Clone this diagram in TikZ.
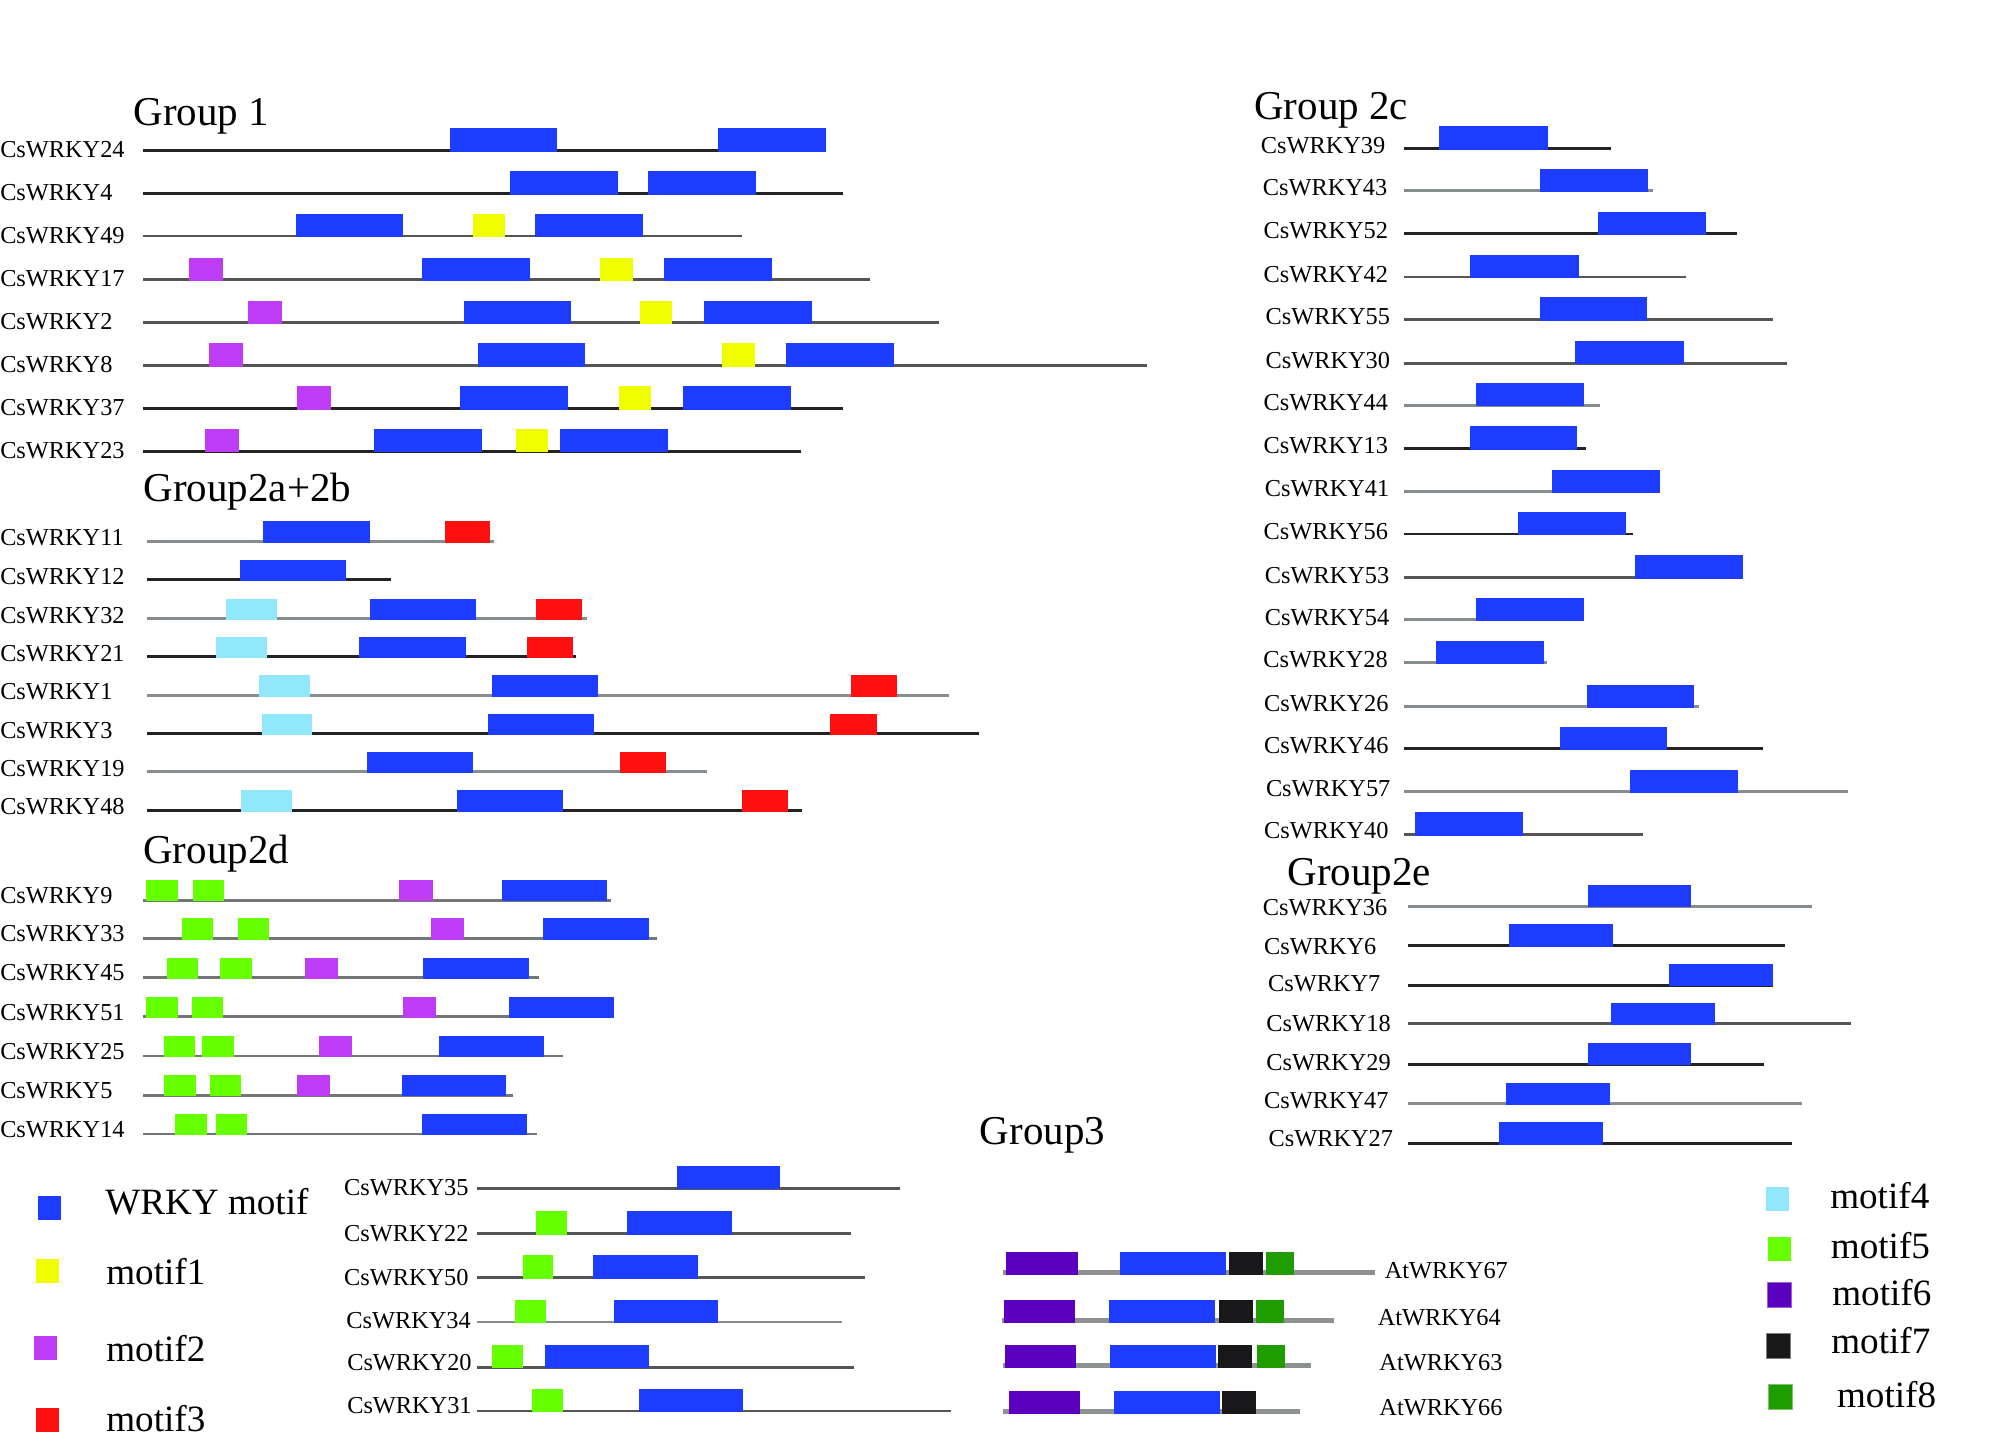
\documentclass[tikz,border=0pt]{standalone}
\usepackage{fontspec}
\setmainfont{Liberation Serif}
\definecolor{cBl}{RGB}{30,60,255}
\definecolor{cYe}{RGB}{240,255,0}
\definecolor{cMg}{RGB}{190,60,245}
\definecolor{cRd}{RGB}{255,16,16}
\definecolor{cLb}{RGB}{145,232,250}
\definecolor{cGr}{RGB}{102,255,0}
\definecolor{cPu}{RGB}{90,0,190}
\definecolor{cBk}{RGB}{24,24,26}
\definecolor{cGd}{RGB}{30,156,0}
\definecolor{lnDc}{RGB}{35,35,35}
\definecolor{lnMc}{RGB}{85,85,85}
\definecolor{lnLc}{RGB}{135,140,140}
\definecolor{lnGc}{RGB}{115,118,118}
\definecolor{lnAc}{RGB}{142,145,145}
\newcommand\rowline[4]{\draw[#1] (#3,#2) -- (#4,#2);}
\newcommand\motbox[4]{\fill[#1] (#3,{#2+\mbo}) rectangle (#4,{#2+\mbo-\mbh});}
\tikzset{
  lnbase/.style={line width=2.3pt},
  lnD/.style={lnbase,draw=lnDc},
  lnM/.style={lnbase,draw=lnMc},
  lnL/.style={lnbase,draw=lnLc},
  lnG/.style={lnbase,draw=lnGc},
  lnA/.style={line width=3.6pt,draw=lnAc},
  lab/.style={font=\fontsize{19}{19}\selectfont, inner sep=0pt},
  labL/.style={lab, anchor=base west},
  labR/.style={lab, anchor=base east},
  ttl/.style={font=\fontsize{32}{32}\selectfont, inner sep=0pt, anchor=base west},
  leg/.style={font=\fontsize{29}{29}\selectfont, inner sep=0pt, anchor=base west},
}
\begin{document}
\begin{tikzpicture}[x=1pt,y=-1pt]
\fill[white] (0,0) rectangle (1568,1133);
\useasboundingbox (0,0) rectangle (1568,1133);

% ---------------- Group 1
\def\mbh{18.4}\def\mbo{1.1}
\node[ttl] (tG1) at (104,98.1) {Group 1};
\node[labL] (l24) at (0,122.9) {CsWRKY24};
\rowline{lnD}{117.4}{111.5}{645.3}
\motbox{cBl}{117.4}{351.2}{435}\motbox{cBl}{117.4}{561}{645.3}
\node[labL] (l4) at (0,156.7) {CsWRKY4};
\rowline{lnD}{151.2}{111.5}{658}
\motbox{cBl}{151.2}{398}{482.4}\motbox{cBl}{151.2}{506}{590.4}
\node[labL] (l49) at (0,189.8) {CsWRKY49};
\rowline{lnM}{184.3}{111.5}{579.4}
\motbox{cBl}{184.3}{231}{314.9}\motbox{cYe}{184.3}{369.2}{394.6}\motbox{cBl}{184.3}{417.7}{502}
\node[labL] (l17) at (0,223.9) {CsWRKY17};
\rowline{lnM}{218.4}{111.5}{679.4}
\motbox{cMg}{218.4}{147.3}{173.9}\motbox{cBl}{218.4}{329.3}{413.6}\motbox{cYe}{218.4}{468.5}{494.5}\motbox{cBl}{218.4}{518.2}{602.5}
\node[labL] (l2) at (0,257.5) {CsWRKY2};
\rowline{lnM}{252}{111.5}{733.1}
\motbox{cMg}{252}{193.5}{220.1}\motbox{cBl}{252}{362.2}{446}\motbox{cYe}{252}{499.7}{525.1}\motbox{cBl}{252}{549.4}{634.3}
\node[labL] (l8) at (0,291) {CsWRKY8};
\rowline{lnM}{285.5}{111.5}{895.4}
\motbox{cMg}{285.5}{163.5}{190.1}\motbox{cBl}{285.5}{373.2}{457}\motbox{cYe}{285.5}{563.8}{589.3}\motbox{cBl}{285.5}{613.5}{697.9}
\node[labL] (l37) at (0,324.6) {CsWRKY37};
\rowline{lnD}{319.1}{111.5}{658}
\motbox{cMg}{319.1}{232.2}{258.8}\motbox{cBl}{319.1}{359.3}{443.7}\motbox{cYe}{319.1}{483}{508.4}\motbox{cBl}{319.1}{533.2}{617.6}
\node[labL] (l23) at (0,357.7) {CsWRKY23};
\rowline{lnD}{352.2}{111.5}{625.6}
\motbox{cMg}{352.2}{160}{186.6}\motbox{cBl}{352.2}{291.7}{376.1}\motbox{cYe}{352.2}{402.7}{428.1}\motbox{cBl}{352.2}{437.3}{521.7}

% ---------------- Group 2a+2b
\def\mbh{16.8}\def\mbo{1.1}
\node[ttl] (tG2ab) at (112,391.7) {Group2a+2b};
\node[labL] (l11) at (0,426.3) {CsWRKY11};
\rowline{lnL}{422.7}{114.5}{386}
\motbox{cBl}{422.7}{205.2}{288.8}\motbox{cRd}{422.7}{347.1}{383}
\node[labL] (l12) at (0,456.3) {CsWRKY12};
\rowline{lnD}{452.7}{114.5}{305.3}
\motbox{cBl}{452.7}{187.3}{270.4}
\node[labL] (l32) at (0,486.7) {CsWRKY32};
\rowline{lnL}{483.1}{114.5}{458.7}
\motbox{cLb}{483.1}{176.8}{216.6}\motbox{cBl}{483.1}{288.8}{371.5}\motbox{cRd}{483.1}{418.3}{454.7}
\node[labL] (l21) at (0,516.6) {CsWRKY21};
\rowline{lnD}{513}{114.5}{449.7}
\motbox{cLb}{513}{168.3}{208.2}\motbox{cBl}{513}{280.4}{363.5}\motbox{cRd}{513}{411.4}{447.7}
\node[labL] (l1) at (0,546.6) {CsWRKY1};
\rowline{lnL}{543}{114.5}{741}
\motbox{cLb}{543}{202.2}{242}\motbox{cBl}{543}{384.5}{467.1}\motbox{cRd}{543}{664.8}{700.7}
\node[labL] (l3) at (0,576.5) {CsWRKY3};
\rowline{lnD}{572.9}{114.5}{764.4}
\motbox{cLb}{572.9}{204.2}{244}\motbox{cBl}{572.9}{381}{464.1}\motbox{cRd}{572.9}{648.4}{684.8}
\node[labL] (l19) at (0,606.4) {CsWRKY19};
\rowline{lnL}{602.8}{114.5}{552.3}
\motbox{cBl}{602.8}{286.4}{369.5}\motbox{cRd}{602.8}{484.1}{519.9}
\node[labL] (l48) at (0,636.4) {CsWRKY48};
\rowline{lnD}{632.8}{114.5}{626.5}
\motbox{cLb}{632.8}{188.2}{228.1}\motbox{cBl}{632.8}{357.1}{439.7}\motbox{cRd}{632.8}{579.2}{615.5}

% ---------------- Group 2d
\node[ttl] (tG2d) at (111.7,674.2) {Group2d};
\node[labL] (l9) at (0,705.4) {CsWRKY9};
\rowline{lnG}{702.8}{111.7}{477.2}
\motbox{cGr}{702.8}{114}{138.7}\motbox{cGr}{702.8}{150.5}{175.2}\motbox{cMg}{702.8}{311.5}{337.8}\motbox{cBl}{702.8}{392}{474.2}
\node[labL] (l33) at (0,735.3) {CsWRKY33};
\rowline{lnG}{732.7}{111.7}{513.3}
\motbox{cGr}{732.7}{142}{166.6}\motbox{cGr}{732.7}{186}{210.3}\motbox{cMg}{732.7}{336.5}{362.5}\motbox{cBl}{732.7}{424.3}{506.4}
\node[labL] (l45) at (0,766) {CsWRKY45};
\rowline{lnG}{763.4}{111.7}{420.6}
\motbox{cGr}{763.4}{130.5}{154.8}\motbox{cGr}{763.4}{171.9}{196.5}\motbox{cMg}{763.4}{238.3}{264.2}\motbox{cBl}{763.4}{330.6}{413.1}
\node[labL] (l51) at (0,796.5) {CsWRKY51};
\rowline{lnG}{793.9}{111.7}{479.5}
\motbox{cGr}{793.9}{114}{138.7}\motbox{cGr}{793.9}{149.9}{174.2}\motbox{cMg}{793.9}{314.8}{340.8}\motbox{cBl}{793.9}{397.6}{479.5}
\node[labL] (l25) at (0,827.2) {CsWRKY25};
\rowline{lnG}{824.6}{111.7}{439.4}
\motbox{cGr}{824.6}{128.2}{152.5}\motbox{cGr}{824.6}{158.1}{182.7}\motbox{cMg}{824.6}{249.1}{275.1}\motbox{cBl}{824.6}{342.8}{424.6}
\node[labL] (l5) at (0,857.7) {CsWRKY5};
\rowline{lnG}{855.1}{111.7}{400.6}
\motbox{cGr}{855.1}{128.2}{153.1}\motbox{cGr}{855.1}{163.7}{188}\motbox{cMg}{855.1}{232}{258}\motbox{cBl}{855.1}{313.8}{395.3}
\node[labL] (l14) at (0,888.1) {CsWRKY14};
\rowline{lnG}{885.5}{111.7}{419}
\motbox{cGr}{885.5}{137}{161.7}\motbox{cGr}{885.5}{168.9}{193.2}\motbox{cBl}{885.5}{329.6}{411.4}

% ---------------- Group 2c
\def\mbh{18.2}\def\mbo{1.1}
\node[ttl] (tG2c) at (979.3,93.2) {Group 2c};
\node[labR] (l39) at (1081.9,119.8) {CsWRKY39};
\rowline{lnD}{115.8}{1096}{1257.8}\motbox{cBl}{115.8}{1123.6}{1208.4}
\node[labR] (l43) at (1083.5,152.9) {CsWRKY43};
\rowline{lnL}{148.9}{1096}{1290.4}\motbox{cBl}{148.9}{1202.6}{1287}
\node[labR] (l52) at (1084.1,186.5) {CsWRKY52};
\rowline{lnD}{182.5}{1096}{1356.4}\motbox{cBl}{182.5}{1247.8}{1332.5}
\node[labR] (l42) at (1084.1,220.3) {CsWRKY42};
\rowline{lnM}{216.3}{1096}{1316.7}\motbox{cBl}{216.3}{1148.1}{1232.8}
\node[labR] (l55) at (1085.6,253.4) {CsWRKY55};
\rowline{lnM}{249.4}{1096}{1384.3}\motbox{cBl}{249.4}{1202.6}{1286.4}
\node[labR] (l30) at (1085.6,288) {CsWRKY30};
\rowline{lnM}{283.5}{1096}{1395.6}\motbox{cBl}{283.5}{1230.2}{1315.2}
\node[labR] (l44) at (1084.1,320.3) {CsWRKY44};
\rowline{lnL}{316.3}{1096}{1249.7}\motbox{cBl}{316.3}{1152.5}{1236.6}
\node[labR] (l13) at (1084.1,354.1) {CsWRKY13};
\rowline{lnD}{350.1}{1096}{1238.1}\motbox{cBl}{350.1}{1147.5}{1231.6}
\node[labR] (l41) at (1085,387.4) {CsWRKY41};
\rowline{lnL}{384}{1096}{1296.2}\motbox{cBl}{384}{1212.1}{1296.2}
\node[labR] (l56) at (1084.1,421) {CsWRKY56};
\rowline{lnD}{417}{1096}{1274.9}\motbox{cBl}{417}{1185.4}{1270}
\node[labR] (l53) at (1085,455.3) {CsWRKY53};
\rowline{lnM}{450.8}{1096}{1360.9}\motbox{cBl}{450.8}{1277.1}{1360.9}
\node[labR] (l54) at (1085,488.1) {CsWRKY54};
\rowline{lnL}{484.1}{1096}{1236.6}\motbox{cBl}{484.1}{1152.2}{1236.6}
\node[labR] (l28) at (1083.8,521.5) {CsWRKY28};
\rowline{lnL}{517.5}{1096}{1208.3}\motbox{cBl}{517.5}{1121.1}{1205.5}
\node[labR] (l26) at (1084.5,555.6) {CsWRKY26};
\rowline{lnL}{551.6}{1096}{1326.3}\motbox{cBl}{551.6}{1239}{1323}
\node[labR] (l46) at (1084.5,588.6) {CsWRKY46};
\rowline{lnD}{584.6}{1096}{1376.8}\motbox{cBl}{584.6}{1217.8}{1301.8}
\node[labR] (l57) at (1085.9,622.2) {CsWRKY57};
\rowline{lnL}{618.2}{1096}{1443.4}\motbox{cBl}{618.2}{1272.7}{1357.4}
\node[labR] (l40) at (1084.5,655) {CsWRKY40};
\rowline{lnM}{651.5}{1096}{1282.7}\motbox{cBl}{651.5}{1104.8}{1188.9}

% ---------------- Group 2e
\def\mbh{17.6}\def\mbo{1.1}
\node[ttl] (tG2e) at (1005.3,691.1) {Group2e};
\node[labR] (l36) at (1083.5,715) {CsWRKY36};
\rowline{lnL}{707.5}{1099.1}{1414.7}\motbox{cBl}{707.5}{1239.7}{1320.3}
\node[labR] (l6) at (1075,745) {CsWRKY6};
\rowline{lnD}{738.2}{1099.1}{1393.7}\motbox{cBl}{738.2}{1178}{1259.2}
\node[labR] (l7) at (1078.1,774.4) {CsWRKY7};
\rowline{lnD}{769.2}{1099.1}{1384.6}\motbox{cBl}{769.2}{1303.6}{1384.6}
\node[labR] (l18) at (1086.2,805.6) {CsWRKY18};
\rowline{lnM}{799.4}{1099.1}{1445.1}\motbox{cBl}{799.4}{1258.2}{1339.2}
\node[labR] (l29) at (1086.2,836.1) {CsWRKY29};
\rowline{lnD}{830.9}{1099.1}{1377.8}\motbox{cBl}{830.9}{1239.7}{1320.3}
\node[labR] (l47) at (1084.5,865.4) {CsWRKY47};
\rowline{lnL}{861.8}{1099.1}{1407.3}\motbox{cBl}{861.8}{1175.8}{1257}
\node[labR] (l27) at (1088,894.9) {CsWRKY27};
\rowline{lnD}{892.6}{1099.1}{1399.5}\motbox{cBl}{892.6}{1170.8}{1252}

% ---------------- Group 3
\def\mbh{18.4}\def\mbo{1.1}
\node[ttl] (tG3) at (765,894) {Group3};
\node[labR] (l35) at (366.1,933.2) {CsWRKY35};
\rowline{lnM}{927.7}{372.8}{702.5}\motbox{cBl}{927.7}{528.3}{609.4}
\node[labR] (l22) at (366.1,969.1) {CsWRKY22};
\rowline{lnM}{963.1}{372.8}{664.5}\motbox{cGr}{963.1}{418.9}{442.9}\motbox{cBl}{963.1}{489.9}{571.4}
\node[labR] (l50) at (366.1,1004) {CsWRKY50};
\rowline{lnM}{997.5}{372.8}{675.5}\motbox{cGr}{997.5}{408.2}{431.9}\motbox{cBl}{997.5}{463.2}{544.7}
\node[labR] (l34) at (367.8,1037.3) {CsWRKY34};
\rowline{lnL}{1032.3}{372.8}{657.1}\motbox{cGr}{1032.3}{402.2}{426.5}\motbox{cBl}{1032.3}{479.3}{560.4}
\node[labR] (l20) at (368.5,1069.8) {CsWRKY20};
\rowline{lnM}{1067.5}{372.8}{666.5}\motbox{cGr}{1067.5}{384.5}{408.5}\motbox{cBl}{1067.5}{425.6}{506.9}
\node[labR] (l31) at (368.5,1104.1) {CsWRKY31};
\rowline{lnM}{1101.8}{372.8}{742.3}\motbox{cGr}{1101.8}{415.2}{439.6}\motbox{cBl}{1101.8}{499}{580.4}

% ---------------- Arabidopsis
\def\mbh{17.5}\def\mbo{1.8}
\node[labL] (a67) at (1081.2,998.2) {AtWRKY67};
\rowline{lnA}{993.5}{783.2}{1073.8}
\motbox{cPu}{993.5}{785.7}{841.6}\motbox{cBl}{993.5}{874.7}{957.4}\motbox{cBk}{993.5}{959.6}{986.2}\motbox{cGd}{993.5}{988.6}{1010.3}
\node[labL] (a64) at (1075.7,1035.4) {AtWRKY64};
\rowline{lnA}{1031}{782.4}{1041.8}
\motbox{cPu}{1031}{784.1}{839.4}\motbox{cBl}{1031}{865.9}{948.6}\motbox{cBk}{1031}{951.9}{978.5}\motbox{cGd}{1031}{980.7}{1002.6}
\node[labL] (a63) at (1077,1070.4) {AtWRKY63};
\rowline{lnA}{1066.2}{783.2}{1023.7}
\motbox{cPu}{1066.2}{784.9}{840.2}\motbox{cBl}{1066.2}{866.8}{949.5}\motbox{cBk}{1066.2}{951.1}{977.7}\motbox{cGd}{1066.2}{981.5}{1003.4}
\node[labL] (a66) at (1077,1105) {AtWRKY66};
\rowline{lnA}{1102.1}{783.2}{1015.2}
\motbox{cPu}{1102.1}{787.8}{843.4}\motbox{cBl}{1102.1}{870.1}{952.8}\motbox{cBk}{1102.1}{954.1}{980.7}

% ---------------- Legend left
\fill[cBl] (29.4,933.9) rectangle (47.6,952.7);
\node[leg] (kW) at (82,948) {WRKY motif};
\fill[cYe] (28.1,983.1) rectangle (46.1,1001.6);
\node[leg] (k1) at (82.8,1003.4) {motif1};
\fill[cMg] (26.5,1043.3) rectangle (44.5,1061.7);
\node[leg] (k2) at (82.8,1063.3) {motif2};
\fill[cRd] (28.1,1099.2) rectangle (46.1,1118);
\node[leg] (k3) at (82.8,1118) {motif3};

% ---------------- Legend right
\fill[cLb] (1379,927.2) rectangle (1397,945.4);
\node[leg] (k4) at (1429,943.6) {motif4};
\fill[cGr] (1380.6,966) rectangle (1398.5,984.4);
\node[leg] (k5) at (1429.5,982.6) {motif5};
\filldraw[fill=cPu,draw=cPu!60!white,line width=0.6pt] (1380,1001.6) rectangle (1398.8,1020.9);
\node[leg] (k6) at (1430.6,1019.1) {motif6};
\filldraw[fill=cBk,draw=gray,line width=0.6pt] (1379.3,1041.2) rectangle (1398,1060.7);
\node[leg] (k7) at (1429.8,1056.8) {motif7};
\filldraw[fill=cGd,draw=cGd!60!white,line width=0.6pt] (1380.8,1081) rectangle (1399.6,1100.5);
\node[leg] (k8) at (1434.3,1098.9) {motif8};
\end{tikzpicture}
\end{document}
